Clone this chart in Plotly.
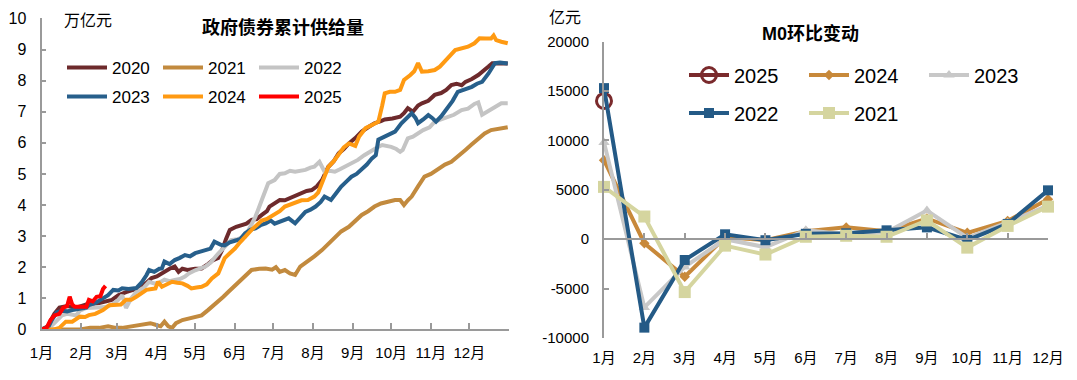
import plotly.graph_objects as go

# ---------------- Left chart data: cumulative government bond supply (万亿元) ----------------
month_labels = ["1月", "2月", "3月", "4月", "5月", "6月", "7月", "8月", "9月", "10月", "11月", "12月"]
month_start_days = [0, 31, 59, 90, 120, 151, 181, 212, 243, 273, 304, 334]

d2020 = [0, 5, 10, 14, 20, 27, 35, 45, 55, 60, 66, 74, 82, 86, 90, 94, 100, 104, 107, 110, 114, 120, 125, 130,
         134, 138, 141, 144, 147, 152, 156, 160, 164, 168, 172, 176, 178, 182, 186, 190, 193, 198, 203, 207, 211,
         215, 219, 224, 228, 232, 236, 240, 245, 250, 255, 260, 265, 268, 274, 280, 283, 286, 290, 294, 297, 302,
         307, 312, 316, 320, 324, 328, 331, 336, 341, 345, 349, 352, 358, 364]
v2020 = [0, 0.1, 0.5, 0.7, 0.75, 0.7, 0.8, 0.85, 0.95, 1.1, 1.2, 1.3, 1.5, 1.65, 1.7, 1.81, 1.95, 2.02, 1.85, 1.95,
         1.91, 1.95, 1.96, 2.1, 2.23, 2.3, 2.55, 2.9, 3.2, 3.3, 3.36, 3.4, 3.52, 3.55, 3.68, 3.8, 3.95, 4.05, 4.16,
         4.15, 4.2, 4.3, 4.38, 4.45, 4.48, 4.6, 4.8, 5.23, 5.4, 5.66, 5.8, 5.98, 6.15, 6.36, 6.5, 6.63, 6.7, 6.75,
         6.78, 6.84, 6.95, 7.11, 7.0, 7.2, 7.27, 7.35, 7.54, 7.6, 7.7, 7.86, 7.9, 7.85, 7.96, 8.05, 8.18, 8.3, 8.45,
         8.56, 8.55, 8.55]

d2021 = [0, 10, 20, 30, 38, 45, 52, 58, 63, 70, 75, 80, 85, 89, 93, 96, 99, 102, 105, 110, 115, 120, 125, 130, 134,
         138, 142, 146, 151, 156, 160, 164, 170, 175, 180, 183, 186, 190, 194, 198, 202, 205, 208, 213, 219, 224, 229,
         234, 240, 245, 250, 255, 260, 265, 271, 276, 280, 283, 286, 289, 294, 299, 304, 310, 315, 320, 325, 331, 336,
         341, 346, 351, 356, 362, 364]
v2021 = [0, 0, 0, 0, 0.05, 0.05, 0.1, 0.05, 0.05, 0.1, 0.12, 0.15, 0.2, 0.15, 0.1, 0.25, 0.1, 0.05, 0.2, 0.3, 0.35,
         0.41, 0.45, 0.62, 0.75, 0.89, 1.05, 1.21, 1.4, 1.59, 1.75, 1.91, 1.95, 1.96, 1.92, 2.0, 1.85, 1.91, 1.8, 1.75,
         2.02, 2.1, 2.18, 2.35, 2.55, 2.75, 2.98, 3.15, 3.3, 3.5, 3.68, 3.8, 3.95, 4.05, 4.11, 4.16, 4.16, 4.0, 4.15,
         4.27, 4.6, 4.91, 5.0, 5.18, 5.3, 5.39, 5.55, 5.77, 5.95, 6.14, 6.3, 6.41, 6.45, 6.5, 6.5]

d2022 = [0, 6, 10, 16, 20, 27, 30, 35, 40, 45, 50, 55, 60, 63, 66, 70, 74, 80, 84, 88, 92, 96, 100, 104, 108, 112,
         115, 120, 124, 128, 132, 135, 138, 143, 148, 153, 159, 163, 167, 172, 177, 182, 186, 190, 194, 198, 202, 206,
         210, 213, 217, 221, 225, 229, 233, 237, 242, 247, 252, 258, 262, 266, 270, 273, 277, 280, 282, 286, 290, 295,
         298, 303, 307, 312, 317, 322, 328, 333, 338, 341, 344, 348, 352, 356, 359, 364]
v2022 = [0, 0.05, 0.2, 0.45, 0.5, 0.45, 0.6, 0.69, 0.7, 0.7, 0.72, 0.8, 0.95, 1.1, 0.69, 1.0, 1.2, 1.35, 1.53, 1.48,
         1.5, 1.6, 1.55, 1.59, 1.62, 1.7, 1.8, 1.9, 1.95, 2.02, 2.15, 2.3, 2.44, 2.65, 2.87, 2.9, 2.98, 3.3, 3.62, 4.16,
         4.7, 4.8, 5.0, 5.02, 5.1, 5.07, 5.1, 5.13, 5.2, 5.23, 5.39, 5.07, 5.1, 5.07, 5.15, 5.23, 5.35, 5.45, 5.6, 5.77,
         5.85, 5.93, 5.9, 5.87, 5.8, 5.71, 5.77, 6.14, 6.2, 6.35, 6.41, 6.5, 6.68, 6.75, 6.84, 6.9, 7.05, 7.1, 7.25,
         7.3, 6.9, 7.0, 7.1, 7.2, 7.27, 7.27]

d2023 = [0, 5, 8, 12, 16, 20, 24, 30, 35, 37, 42, 46, 48, 52, 56, 60, 63, 68, 74, 78, 82, 84, 88, 92, 94, 96, 100,
         104, 108, 112, 116, 120, 124, 128, 132, 135, 140, 143, 147, 151, 155, 159, 163, 167, 171, 175, 179, 182, 186,
         190, 193, 198, 202, 206, 210, 214, 218, 221, 226, 230, 234, 238, 242, 246, 250, 254, 258, 261, 263, 268, 271,
         276, 281, 285, 289, 292, 294, 298, 302, 305, 308, 312, 317, 321, 325, 330, 336, 340, 344, 349, 354, 358, 364]
v2023 = [0, 0.05, 0.3, 0.55, 0.6, 0.58, 0.62, 0.65, 0.7, 0.78, 0.85, 0.95, 1.0, 1.1, 1.27, 1.25, 1.32, 1.3, 1.33,
         1.5, 1.75, 1.91, 1.85, 1.95, 1.96, 2.18, 2.1, 2.23, 2.3, 2.39, 2.35, 2.45, 2.5, 2.55, 2.6, 2.82, 2.72, 2.7,
         2.8, 2.85, 2.9, 3.09, 3.2, 3.25, 3.35, 3.41, 3.5, 3.4, 3.45, 3.5, 3.57, 3.41, 3.6, 3.78, 3.85, 3.95, 4.1,
         4.27, 4.16, 4.4, 4.59, 4.75, 4.91, 5.0, 5.13, 5.3, 5.5, 5.6, 6.1, 6.2, 6.25, 6.36, 6.63, 6.8, 6.95, 6.8,
         6.63, 6.75, 6.89, 6.8, 6.68, 6.85, 7.11, 7.35, 7.64, 7.7, 7.8, 7.9, 7.96, 8.23, 8.56, 8.58, 8.55]

d2024 = [0, 10, 14, 19, 24, 30, 34, 37, 42, 48, 53, 58, 62, 66, 70, 74, 78, 82, 86, 89, 91, 94, 98, 102, 106, 110,
         114, 117, 121, 125, 129, 133, 138, 141, 143, 147, 151, 155, 159, 164, 168, 172, 176, 180, 186, 190, 193, 198,
         203, 208, 213, 216, 219, 224, 228, 232, 236, 240, 245, 248, 253, 258, 263, 266, 268, 272, 276, 280, 283, 288,
         291, 294, 297, 302, 307, 311, 315, 319, 323, 328, 333, 338, 342, 347, 351, 353, 355, 359, 364]
v2024 = [0, 0, 0.05, 0.25, 0.25, 0.41, 0.4, 0.46, 0.5, 0.62, 0.78, 0.78, 0.8, 0.95, 0.95, 1.05, 1.15, 1.27, 1.3,
         1.32, 1.53, 1.37, 1.45, 1.53, 1.5, 1.48, 1.4, 1.32, 1.35, 1.37, 1.45, 1.64, 1.8, 2.1, 2.29, 2.45, 2.6, 2.8,
         3.0, 3.2, 3.35, 3.5, 3.55, 3.65, 3.8, 3.95, 4.0, 4.1, 4.15, 4.16, 4.27, 4.4, 4.7, 5.23, 5.4, 5.6, 5.85,
         5.98, 5.9, 6.2, 6.47, 6.57, 6.68, 7.2, 7.59, 7.64, 7.64, 7.7, 8.02, 8.18, 8.3, 8.56, 8.29, 8.3, 8.34, 8.45,
         8.61, 8.8, 8.98, 9.05, 9.09, 9.2, 9.36, 9.35, 9.35, 9.45, 9.3, 9.25, 9.2]

d2025 = [0, 4, 7, 10, 14, 17, 20, 22, 24, 26, 30, 35, 37, 40, 43, 46, 48, 50]
v2025 = [0, 0.05, 0.3, 0.45, 0.5, 0.7, 0.75, 1.05, 0.8, 0.73, 0.73, 0.73, 0.95, 0.9, 1.05, 1.07, 1.3, 1.4]

left_y_ticks = [0, 1, 2, 3, 4, 5, 6, 7, 8, 9, 10]

# ---------------- Right chart data: M0 month-on-month change (亿元) ----------------
m0_months = [1, 2, 3, 4, 5, 6, 7, 8, 9, 10, 11, 12]
m0_2025 = [14000]
m0_2024 = [8000, -400, -3800, 200, -100, 800, 1200, 800, 2100, 650, 1850, 4050]
m0_2023 = [9800, -6900, -2800, 0, -800, 900, 500, 700, 2900, 150, 1700, 3400]
m0_2022 = [15300, -8950, -2100, 500, -100, 550, 600, 900, 1200, -80, 1550, 4950]
m0_2021 = [5300, 2300, -5350, -650, -1550, 250, 350, 250, 1900, -850, 1350, 3300]
right_y_ticks = [-10000, -5000, 0, 5000, 10000, 15000, 20000]
right_y_text = ["-10000", "-5000", "0", "5000", "10000", "15000", "20000"]

# ---------------- styling ----------------
FONT = "Arial, 'Liberation Sans', 'Noto Sans CJK SC', sans-serif"
AX = "#9a9a9a"
W, H = 1077, 380

def px_x(p):
    return p / W

def px_y(p):
    return (H - p) / H

fig = go.Figure()

left_series = [
    ("2020", d2020, v2020, "#6d2a2c"),
    ("2021", d2021, v2021, "#c28a3e"),
    ("2022", d2022, v2022, "#c4c4c4"),
    ("2023", d2023, v2023, "#275f8b"),
    ("2024", d2024, v2024, "#ff9a12"),
    ("2025", d2025, v2025, "#ff0000"),
]
for i, (name, dx, vy, col) in enumerate(left_series):
    fig.add_trace(go.Scatter(
        x=dx, y=vy, name=name, mode="lines",
        line=dict(color=col, width=4),
        xaxis="x", yaxis="y",
        legend="legend" if i < 3 else "legend2",
    ))

right_series = [
    ("2025", m0_2025, "#7a2a2c", dict(symbol="circle-open", size=15, line=dict(width=3, color="#7a2a2c")), "legend3"),
    ("2024", m0_2024, "#c8893a", dict(symbol="diamond", size=8), "legend3"),
    ("2023", m0_2023, "#c8c8c8", dict(symbol="triangle-up", size=10), "legend3"),
    ("2022", m0_2022, "#245a86", dict(symbol="square", size=10), "legend4"),
    ("2021", m0_2021, "#d5d59f", dict(symbol="square", size=12), "legend4"),
]
for name, vals, col, mk, lg in right_series:
    mk = dict(mk)
    mk.setdefault("color", col)
    fig.add_trace(go.Scatter(
        x=m0_months[:len(vals)], y=vals, name=name, mode="lines+markers",
        line=dict(color=col, width=4), marker=mk,
        xaxis="x2", yaxis="y2", legend=lg, cliponaxis=False,
    ))

# dummy trace so the zero-line axis gets a subplot
fig.add_trace(go.Scatter(x=[], y=[], xaxis="x3", yaxis="y2", showlegend=False, hoverinfo="skip"))

left_xdom = [px_x(41.5), px_x(509)]
left_ydom = [px_y(329.4), px_y(18.4)]
right_xdom = [px_x(604), px_x(1048)]
right_ydom = [px_y(338), px_y(41.7)]

tickfont = dict(family=FONT, size=16, color="#000")

fig.update_layout(
    width=W, height=H,
    margin=dict(l=0, r=0, t=0, b=0, autoexpand=False),
    paper_bgcolor="white", plot_bgcolor="white",
    font=dict(family=FONT, color="#000"),
    xaxis=dict(domain=left_xdom, anchor="y", range=[0, 365],
               tickmode="array", tickvals=month_start_days, ticktext=month_labels, tickangle=0,
               showgrid=False, zeroline=False, showline=True, linecolor=AX, linewidth=2,
               ticks="inside", ticklen=6, tickcolor=AX, tickwidth=1.5,
               tickfont=dict(family=FONT, size=15), ticklabelstandoff=9),
    yaxis=dict(domain=left_ydom, anchor="x", range=[0, 10],
               tickmode="array", tickvals=left_y_ticks, ticktext=[str(t) for t in left_y_ticks],
               showgrid=False, zeroline=False, showline=True, linecolor=AX, linewidth=2,
               ticks="inside", ticklen=4, tickcolor=AX, tickwidth=1.5,
               tickfont=tickfont, ticklabelstandoff=10),
    xaxis2=dict(domain=right_xdom, anchor="y2", range=[1, 12],
                tickmode="array", tickvals=m0_months, ticktext=month_labels, tickangle=0,
                showgrid=False, zeroline=False, showline=False, ticks="",
                tickfont=dict(family=FONT, size=15), ticklabelstandoff=9),
    xaxis3=dict(domain=right_xdom, overlaying="x2", anchor="free", position=px_y(239),
                range=[1, 12], tickmode="array", tickvals=m0_months,
                showticklabels=False, showgrid=False, zeroline=False,
                showline=True, linecolor=AX, linewidth=2,
                ticks="inside", ticklen=5, tickcolor=AX, tickwidth=1.5),
    yaxis2=dict(domain=right_ydom, anchor="x2", range=[-10000, 20000],
                tickmode="array", tickvals=right_y_ticks, ticktext=right_y_text,
                showgrid=False, zeroline=False, showline=True, linecolor=AX, linewidth=2,
                ticks="inside", ticklen=5, tickcolor=AX, tickwidth=1.5,
                tickfont=dict(family=FONT, size=15), ticklabelstandoff=10),
    legend=dict(orientation="h", x=px_x(62), y=px_y(68), xanchor="left", yanchor="middle",
                entrywidth=41, entrywidthmode="pixels", bgcolor="rgba(0,0,0,0)",
                font=dict(family=FONT, size=17), itemwidth=40, tracegroupgap=0),
    legend2=dict(orientation="h", x=px_x(62), y=px_y(97), xanchor="left", yanchor="middle",
                 entrywidth=41, entrywidthmode="pixels", bgcolor="rgba(0,0,0,0)",
                 font=dict(family=FONT, size=17), itemwidth=40, tracegroupgap=0),
    legend3=dict(orientation="h", x=px_x(684), y=px_y(75), xanchor="left", yanchor="middle",
                 entrywidth=65, entrywidthmode="pixels", bgcolor="rgba(0,0,0,0)",
                 font=dict(family=FONT, size=20), itemwidth=40, tracegroupgap=0),
    legend4=dict(orientation="h", x=px_x(684), y=px_y(113), xanchor="left", yanchor="middle",
                 entrywidth=65, entrywidthmode="pixels", bgcolor="rgba(0,0,0,0)",
                 font=dict(family=FONT, size=20), itemwidth=40, tracegroupgap=0),
    annotations=[
        dict(text="万亿元", x=px_x(62), y=px_y(20), xref="paper", yref="paper",
             xanchor="left", yanchor="middle", showarrow=False, font=dict(family=FONT, size=16)),
        dict(text="<b>政府债券累计供给量</b>", x=px_x(283), y=px_y(27), xref="paper", yref="paper",
             xanchor="center", yanchor="middle", showarrow=False, font=dict(family=FONT, size=18)),
        dict(text="亿元", x=px_x(547), y=px_y(17), xref="paper", yref="paper",
             xanchor="left", yanchor="middle", showarrow=False, font=dict(family=FONT, size=16)),
        dict(text="<b>M0环比变动</b>", x=px_x(810), y=px_y(33), xref="paper", yref="paper",
             xanchor="center", yanchor="middle", showarrow=False, font=dict(family=FONT, size=18)),
    ],
    showlegend=True,
)

fig.write_html("out.html", config={"displayModeBar": False},
               post_script="document.body.style.margin='0px';")
